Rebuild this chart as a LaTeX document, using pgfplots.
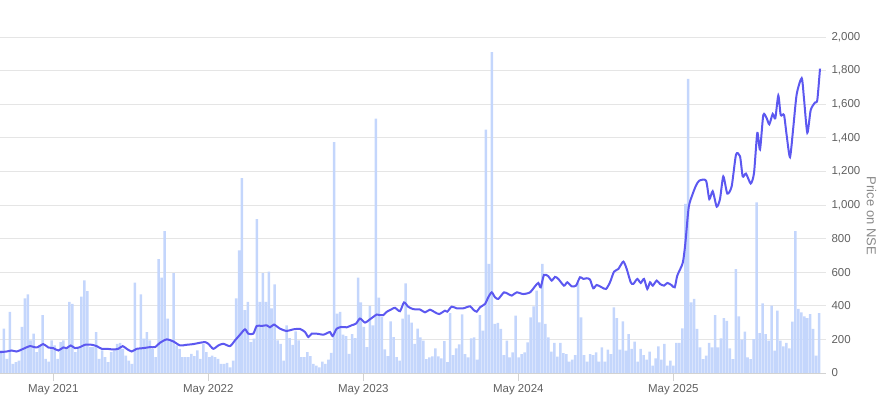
\documentclass[border=0pt]{standalone}
\usepackage{fontspec}
\setmainfont{Liberation Sans}
\usepackage{pgfplots}
\pgfplotsset{compat=1.18}
\definecolor{pricecol}{RGB}{92,88,240}
\definecolor{volcol}{RGB}{196,214,252}
\definecolor{ticktxt}{HTML}{606060}
\definecolor{labtxt}{HTML}{888888}
\begin{document}
\begin{tikzpicture}
\begin{axis}[
  at={(0,0)}, anchor=south west, scale only axis,
  width=826pt, height=336pt,
  xmin=0, xmax=826, ymin=0, ymax=2000,
  axis x line*=bottom, axis y line*=right,
  x axis line style={draw=gray!35, line width=0.8pt},
  y axis line style={draw=none},
  ymajorgrids, grid style={draw=gray!20, line width=0.8pt},
  xtick={53.3,208.3,363.3,518.3,673.3},
  xticklabels={May 2021,May 2022,May 2023,May 2024,May 2025},
  ytick={0,200,...,2000},
  tick align=outside, major tick length=8pt,
  x tick style={draw=gray!35, line width=0.8pt},
  y tick style={draw=none},
  xticklabel style={font=\fontsize{11.5}{13}\selectfont, text=ticktxt},
  yticklabel style={font=\fontsize{11.5}{13}\selectfont, text=ticktxt, anchor=west, xshift=-6pt},
  /pgf/number format/.cd, 1000 sep={,}, assume math mode=true,
]
% weekly volume bars (week index -> pixel position)
\addplot[ybar, bar width=2.5, fill=volcol, draw=none, x filter/.expression={1+2.975*x}] coordinates {
(0,134) (1,264) (2,84) (3,364) (4,54) (5,64) (6,74) (7,274) (8,444) (9,468)
(10,194) (11,234) (12,124) (13,164) (14,344) (15,84) (16,68) (17,194) (18,164) (19,84)
(20,184) (21,194) (22,144) (23,424) (24,412) (25,124) (26,154) (27,454) (28,552) (29,488)
(30,154) (31,154) (32,244) (33,84) (34,134) (35,94) (36,64) (37,124) (38,134) (39,174)
(40,180) (41,144) (42,104) (43,74) (44,54) (45,538) (46,144) (47,468) (48,204) (49,244)
(50,194) (51,144) (52,94) (53,678) (54,568) (55,844) (56,324) (57,194) (58,594) (59,164)
(60,144) (61,94) (62,94) (63,94) (64,114) (65,100) (66,134) (67,84) (68,174) (69,124)
(70,94) (71,104) (72,94) (73,84) (74,54) (75,54) (76,60) (77,34) (78,74) (79,444)
(80,730) (81,1160) (82,374) (83,424) (84,184) (85,204) (86,916) (87,424) (88,594) (89,424)
(90,604) (91,384) (92,528) (93,194) (94,174) (95,74) (96,284) (97,208) (98,168) (99,248)
(100,194) (101,94) (102,94) (103,124) (104,100) (105,54) (106,44) (107,34) (108,68) (109,54)
(110,80) (111,120) (112,1374) (113,354) (114,364) (115,228) (116,220) (117,114) (118,232) (119,208)
(120,568) (121,420) (122,274) (123,154) (124,400) (125,284) (126,1514) (127,448) (128,334) (129,140)
(130,100) (131,308) (132,214) (133,94) (134,74) (135,324) (136,534) (137,348) (138,300) (139,174)
(140,264) (141,212) (142,193) (143,83) (144,93) (145,99) (146,147) (147,99) (148,87) (149,190)
(150,64) (151,357) (152,107) (153,147) (154,171) (155,349) (156,113) (157,93) (158,206) (159,212)
(160,79) (161,345) (162,252) (163,1449) (164,649) (165,1910) (166,292) (167,298) (168,262) (169,107)
(170,193) (171,93) (172,123) (173,341) (174,93) (175,113) (176,123) (177,183) (178,331) (179,397)
(180,490) (181,302) (182,649) (183,292) (184,212) (185,127) (186,179) (187,97) (188,179) (189,119)
(190,113) (191,67) (192,79) (193,107) (194,536) (195,331) (196,107) (197,67) (198,113) (199,107)
(200,123) (201,67) (202,153) (203,67) (204,139) (205,113) (206,391) (207,326) (208,139) (209,308)
(210,133) (211,232) (212,143) (213,187) (214,67) (215,143) (216,107) (217,79) (218,127) (219,44)
(220,87) (221,159) (222,79) (223,173) (224,44) (225,73) (226,44) (227,179) (228,179) (229,266)
(230,1006) (231,1751) (232,421) (233,441) (234,262) (235,153) (236,83) (237,103) (238,179) (239,153)
(240,345) (241,153) (242,206) (243,326) (244,310) (245,147) (246,83) (247,619) (248,337) (249,198)
(250,246) (251,93) (252,83) (253,202) (254,1016) (255,238) (256,415) (257,232) (258,193) (259,401)
(260,133) (261,371) (262,193) (263,159) (264,179) (265,147) (266,306) (267,844) (268,381) (269,361)
(270,337) (271,326) (272,351) (273,262) (274,103) (275,357)
};
% price on NSE
\addplot[pricecol, line width=2pt, smooth, tension=0.4, mark=none] coordinates {
(0,124) (6.7,128) (11.7,134) (16.7,128) (23.3,144) (30,160) (36.7,152) (43.3,172) (48.3,152) (53.3,148)
(58.3,134) (63.3,152) (66.7,148) (70.7,164) (75,148) (80,154) (85,168) (91.7,168) (96.7,160) (101.7,144)
(106.7,144) (113.3,140) (118.3,144) (122.7,160) (126.7,144) (131.7,128) (136.7,144) (143.3,148) (150,154) (155,154)
(160,180) (166.7,200) (173.3,188) (180,164) (186.7,168) (193.3,172) (200,180) (205,184) (208.3,174) (213.3,144)
(218.3,164) (223.3,174) (230,160) (235,194) (240,228) (245,260) (248.3,234) (253.3,234) (256.7,280) (261.7,280)
(266.7,284) (270,272) (274,288) (280,264) (286.7,250) (293.3,260) (300,262) (305,244) (308.3,214) (311.7,234)
(316.7,234) (323.3,228) (326.7,236) (330,244) (332.7,220) (336.7,264) (341.7,274) (346.7,272) (351.7,284) (356,294)
(360,324) (365,300) (370,320) (373.3,334) (376.7,348) (380,344) (383.3,344) (386.7,364) (391.7,380) (395,388)
(400,368) (404,420) (408.3,394) (413.3,380) (420,378) (425,361) (430,377) (435,361) (439.3,351) (445,371)
(447.3,365) (451.7,395) (456.7,385) (463.3,385) (470,397) (473.3,377) (476.7,365) (480,391) (485,411) (488.3,451)
(491.7,480) (495,451) (498.3,441) (504,480) (508.3,470) (511.7,461) (516.7,480) (523.3,470) (530,480) (535,516)
(538.3,536) (540.7,510) (544,584) (548.3,576) (551.7,550) (555,572) (558.3,560) (564,520) (567.3,540) (571.7,516)
(576,520) (580,570) (583.3,560) (586.7,564) (590,556) (593.3,504) (596.7,524) (601.7,510) (606,500) (610,540)
(614,603) (618.3,619) (623.3,663) (626.7,619) (630.7,540) (633.3,530) (637.3,560) (640.7,536) (644,560) (647.3,500)
(650,540) (652.7,520) (656.7,550) (660,530) (664,520) (667.3,536) (671.3,524) (674.7,510) (677.3,580) (682.7,655)
(685.3,770) (688.7,987) (692.7,1066) (696,1116) (699.3,1145) (706,1145) (709.3,1035) (712.7,1082) (716.7,990) (720,1036)
(723.3,1170) (727.3,1068) (731.7,1112) (736,1300) (740,1290) (742.7,1170) (746,1187) (750.7,1128) (754,1190) (757.3,1429)
(760,1330) (763.3,1536) (766.7,1516) (769.3,1480) (772.7,1542) (775.3,1516) (778.3,1652) (780.7,1536) (784,1536) (786.7,1413)
(790,1285) (793.3,1463) (796.7,1660) (801.7,1755) (804,1632) (807.3,1430) (810.7,1565) (815,1610) (817.3,1625) (820,1812)
};
\end{axis}
\node[rotate=-90, text=labtxt, font=\fontsize{13}{15}\selectfont] at (871.5pt,157pt) {Price on NSE};
\pgfresetboundingbox
\path[use as bounding box] (0pt,-41pt) rectangle (885pt,373pt);
\end{tikzpicture}
\end{document}
